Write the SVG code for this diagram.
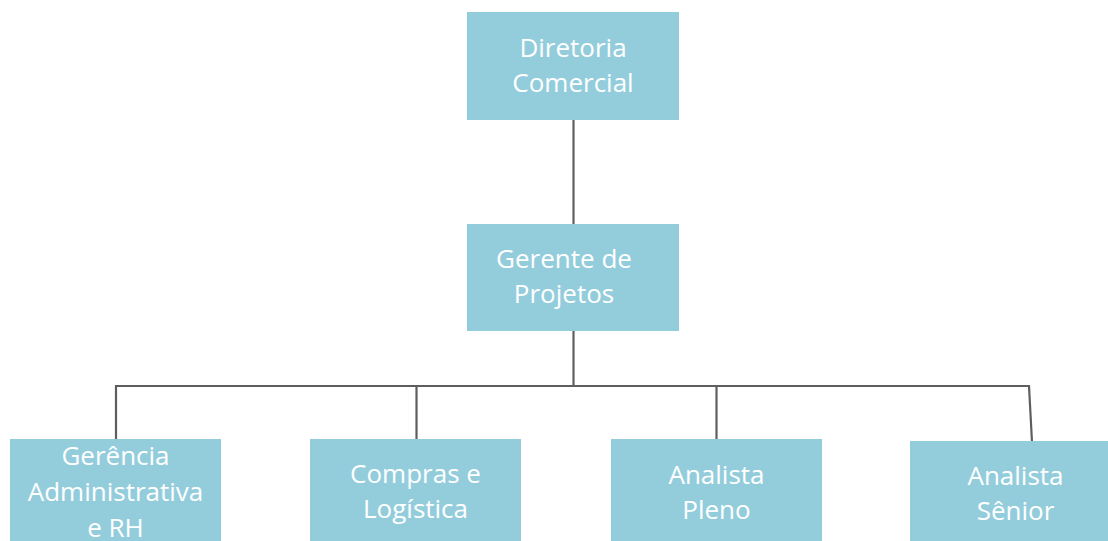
<svg xmlns="http://www.w3.org/2000/svg" width="1108" height="541" viewBox="0 0 1108 541">
<style>
.box{fill:#93CDDC;}
.lbl{font-family:"Open Sans","Liberation Sans",sans-serif;font-size:26px;fill:#FFFFFF;text-anchor:middle;}
.ln{stroke:#5E5E5E;stroke-width:2.2;fill:none;stroke-linecap:butt;stroke-linejoin:miter;}
</style>
<rect width="1108" height="541" fill="#FFFFFF"/>
<g id="connectors">
<path class="ln" d="M573.5 120 V224"/>
<path class="ln" d="M573.5 331 V386"/>
<path class="ln" d="M116 440 V386 H1029 L1032 442"/>
<path class="ln" d="M416.5 386 V440"/>
<path class="ln" d="M716.5 386 V440"/>
</g>
<g id="diretoria">
<rect class="box" x="467" y="12" width="212" height="108"/>
<text class="lbl" x="573" y="57">Diretoria</text>
<text class="lbl" x="573" y="92">Comercial</text>
</g>
<g id="gerente">
<rect class="box" x="467" y="224" width="212" height="107"/>
<text class="lbl" x="564" y="268">Gerente de</text>
<text class="lbl" x="564" y="303">Projetos</text>
</g>
<g id="gerencia">
<rect class="box" x="10" y="439" width="211" height="110"/>
<text class="lbl" x="115.5" y="465">Gerência</text>
<text class="lbl" x="115.5" y="501">Administrativa</text>
<text class="lbl" x="115.5" y="537">e RH</text>
</g>
<g id="compras">
<rect class="box" x="310" y="439" width="211" height="110"/>
<text class="lbl" x="415.5" y="483">Compras e</text>
<text class="lbl" x="415.5" y="518">Logística</text>
</g>
<g id="pleno">
<rect class="box" x="611" y="439" width="211" height="110"/>
<text class="lbl" x="716.5" y="484">Analista</text>
<text class="lbl" x="716.5" y="519">Pleno</text>
</g>
<g id="senior">
<rect class="box" x="910" y="441" width="211" height="110"/>
<text class="lbl" x="1015.5" y="485">Analista</text>
<text class="lbl" x="1015.5" y="520">Sênior</text>
</g>
</svg>
